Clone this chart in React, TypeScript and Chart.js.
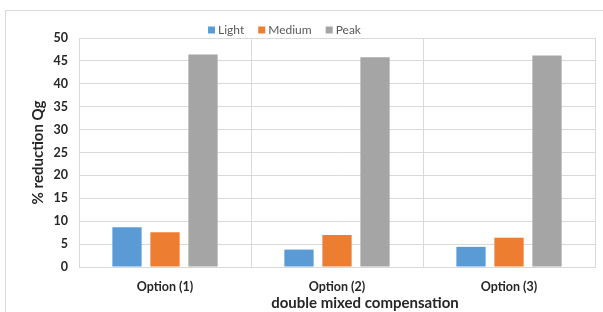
import React, { useEffect, useRef } from "react";
import { Chart, registerables } from "chart.js";

Chart.register(...registerables);

const categories = ["Option (1)", "Option (2)", "Option (3)"];
const lightValues = [8.7, 3.8, 4.4];
const mediumValues = [7.6, 7.0, 6.4];
const peakValues = [46.4, 45.8, 46.2];
const yTicks = [0, 5, 10, 15, 20, 25, 30, 35, 40, 45, 50];
const xTitle = "double mixed compensation";
const yTitle = "% reduction Qg";

const FONT = "Lato, 'Open Sans', sans-serif";

const framePlugin = {
  id: "frame",
  beforeDraw(chart: any) {
    const ctx = chart.ctx;
    ctx.save();
    ctx.fillStyle = "#ffffff";
    ctx.fillRect(0, 0, chart.width, chart.height);
    ctx.strokeStyle = "#d9d9d9";
    ctx.lineWidth = 1;
    ctx.strokeRect(5.5, 10.5, 800, 500);
    ctx.restore();
  },
  afterDraw(chart: any) {
    const ctx = chart.ctx;
    ctx.save();
    // x axis title
    ctx.fillStyle = "#262626";
    ctx.font = `bold 15px ${FONT}`;
    ctx.textAlign = "center";
    ctx.textBaseline = "middle";
    ctx.fillText(xTitle, 365, 303);
    // legend
    ctx.font = `12px ${FONT}`;
    ctx.textAlign = "left";
    const items = chart.data.datasets.map((d: any) => ({
      label: d.label as string,
      color: d.backgroundColor as string,
    }));
    const box = 7;
    const gapText = 3;
    const gapItem = 14;
    let total = 0;
    items.forEach((it: any, i: number) => {
      total += box + gapText + ctx.measureText(it.label).width;
      if (i < items.length - 1) total += gapItem;
    });
    let x = 284.5 - total / 2;
    const cy = 30;
    items.forEach((it: any) => {
      ctx.fillStyle = it.color;
      ctx.fillRect(x, cy - box / 2, box, box);
      x += box + gapText;
      ctx.fillStyle = "#595959";
      ctx.fillText(it.label, x, cy + 0.5);
      x += ctx.measureText(it.label).width + gapItem;
    });
    ctx.restore();
  },
};

export default function App() {
  const ref = useRef<HTMLCanvasElement>(null);
  useEffect(() => {
    if (!ref.current) return;
    const chart = new Chart(ref.current, {
      type: "bar",
      data: {
        labels: categories,
        datasets: [
          { label: "Light", data: lightValues, backgroundColor: "#5b9bd5" },
          { label: "Medium", data: mediumValues, backgroundColor: "#ed7d31" },
          { label: "Peak", data: peakValues, backgroundColor: "#a5a5a5" },
        ],
      },
      options: {
        responsive: false,
        animation: false,
        events: [],
        datasets: { bar: { categoryPercentage: 0.663, barPercentage: 0.77 } },
        layout: { padding: { left: 29, right: 8, top: 38, bottom: 0 } },
        plugins: {
          legend: { display: false },
          tooltip: { enabled: false },
        },
        scales: {
          x: {
            grid: { color: "#d9d9d9", drawTicks: false, offset: true },
            border: { color: "#d9d9d9" },
            ticks: {
              color: "#262626",
              padding: 12,
              font: { family: FONT, size: 12.5, weight: "bold" },
            },
            afterFit: (s: any) => {
              s.height = 45;
            },
          },
          y: {
            min: 0,
            max: 50,
            afterBuildTicks: (s: any) => {
              s.ticks = yTicks.map((v) => ({ value: v }));
            },
            grid: { color: "#d9d9d9", drawTicks: false },
            border: { color: "#d9d9d9" },
            ticks: {
              color: "#262626",
              padding: 11,
              font: { family: FONT, size: 12.5, weight: "bold" },
            },
            title: {
              display: true,
              text: yTitle,
              color: "#262626",
              font: { family: FONT, size: 15, weight: "bold" },
              padding: { top: 0, bottom: 0 },
            },
            afterFit: (s: any) => {
              s.width = 50;
            },
          },
        },
      },
      plugins: [framePlugin],
    });
    return () => chart.destroy();
  }, []);
  return (
    <div style={{ position: "absolute", left: 0, top: 0, width: 603, height: 312 }}>
      <canvas ref={ref} width={603} height={312} style={{ display: "block" }} />
    </div>
  );
}
